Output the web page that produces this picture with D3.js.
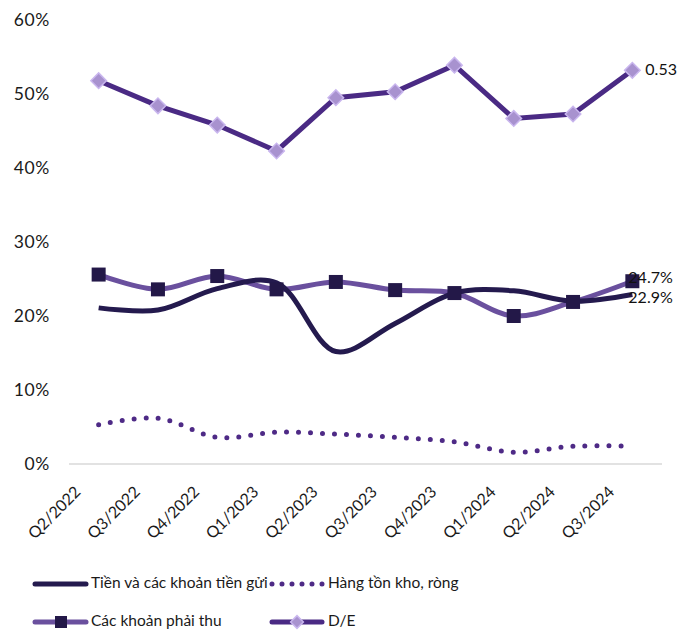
<!DOCTYPE html>
<html><head><meta charset="utf-8">
<script src="https://cdn.jsdelivr.net/npm/d3@7"></script>
<style>body{margin:0;background:#fff;} svg{display:block;font-family:Lato,"Noto Sans",sans-serif;}</style>
</head><body><svg id="c" width="678" height="632"></svg>
<script>
const categories = ["Q2/2022","Q3/2022","Q4/2022","Q1/2023","Q2/2023","Q3/2023","Q4/2023","Q1/2024","Q2/2024","Q3/2024"];
const cash = [21.1, 20.8, 23.7, 24.5, 15.2, 19.0, 23.1, 23.4, 22.0, 22.9];
const inventory = [5.3, 6.2, 3.6, 4.3, 4.05, 3.6, 3.0, 1.6, 2.4, 2.4];
const receivables = [25.6, 23.6, 25.4, 23.6, 24.6, 23.5, 23.1, 20.0, 21.9, 24.7];
const de = [51.8, 48.4, 45.8, 42.3, 49.5, 50.3, 53.9, 46.7, 47.3, 53.2];
const yTicks = [0, 10, 20, 30, 40, 50, 60];
const seriesNames = ["Tiền và các khoản tiền gửi", "Hàng tồn kho, ròng", "Các khoản phải thu", "D/E"];
const endLabels = ["22.9%", "24.7%", "0.53"];

const svg = d3.select("#c");
const x = d3.scaleBand().domain(categories).range([69, 662]);
const y = d3.scaleLinear().domain([0, 60]).range([464, 20]);
const cx = d => x(d) + x.bandwidth() / 2;

const C = {cash:"#241a4e", inv:"#4e2a86", rec:"#6a509e", recMk:"#231848", de:"#4a2a84", deMk:"#a892cf", deMkS:"#c9b6ee"};

// baseline
svg.append("line").attr("x1", 69).attr("x2", 662).attr("y1", y(0)).attr("y2", y(0))
  .attr("stroke", "#d9d9d9").attr("stroke-width", 1.5);

// y axis labels
const yAxis = d3.axisLeft(y).tickValues(yTicks).tickFormat(d => d + "%").tickSize(0).tickPadding(0);
const ya = svg.append("g").attr("transform", "translate(50,0)").call(yAxis);
ya.select(".domain").remove();
ya.selectAll("text").attr("font-size", 17.5).attr("letter-spacing", 0.6).attr("fill", "#1a1a1a").attr("font-family", "Lato, sans-serif");

// x axis labels
const xa = svg.append("g").attr("transform", `translate(0,${y(0)})`)
  .call(d3.axisBottom(x).tickSize(0).tickPadding(0));
xa.select(".domain").remove();
xa.selectAll("text").attr("font-size", 16).attr("fill", "#1a1a1a").attr("font-family", "Lato, sans-serif")
  .attr("text-anchor", "end").attr("dy", 0).attr("y", 0)
  .attr("transform", "translate(-17,29) rotate(-45)");

const line = (vals, curve) => d3.line().x((d, i) => cx(categories[i])).y(d => y(d)).curve(curve)(vals);

// inventory dotted
svg.append("path").attr("d", line(inventory, d3.curveCatmullRom.alpha(0.5)))
  .attr("fill", "none").attr("stroke", C.inv).attr("stroke-width", 5)
  .attr("stroke-linecap", "round").attr("stroke-dasharray", "0,12");

// receivables
svg.append("path").attr("d", line(receivables, d3.curveCatmullRom.alpha(0.5)))
  .attr("fill", "none").attr("stroke", C.rec).attr("stroke-width", 5);

// cash
svg.append("path").attr("d", line(cash, d3.curveCatmullRom.alpha(0.5)))
  .attr("fill", "none").attr("stroke", C.cash).attr("stroke-width", 5);

// receivables markers
svg.selectAll(".rm").data(receivables).enter().append("rect")
  .attr("x", (d, i) => cx(categories[i]) - 7).attr("y", d => y(d) - 7)
  .attr("width", 14).attr("height", 14).attr("fill", C.recMk);

// D/E
svg.append("path").attr("d", line(de, d3.curveLinear))
  .attr("fill", "none").attr("stroke", C.de).attr("stroke-width", 5);
svg.selectAll(".dm").data(de).enter().append("rect")
  .attr("x", -5.5).attr("y", -5.5).attr("width", 11).attr("height", 11)
  .attr("transform", (d, i) => `translate(${cx(categories[i])},${y(d)}) rotate(45)`)
  .attr("fill", C.deMk).attr("stroke", C.deMkS).attr("stroke-width", 1.5);

// end labels
const last = categories.length - 1;
const lbl = (txt, xx, yy) => svg.append("text").attr("x", xx).attr("y", yy).text(txt)
  .attr("font-size", 16).attr("fill", "#111").attr("font-family", "Lato, sans-serif").attr("dominant-baseline", "middle");
lbl(endLabels[0], cx(categories[last]) - 4, y(cash[last]) + 4);
lbl(endLabels[1], cx(categories[last]) - 4, y(receivables[last]) - 2);
lbl(endLabels[2], cx(categories[last]) + 13, y(de[last]) + 1);

// legend
const lg = svg.append("g").attr("font-family", "Lato, sans-serif").attr("font-size", 15.5).attr("fill", "#1a1a1a");
const rows = [
  {x1: 33, y: 584, name: seriesNames[0], type: "cash"},
  {x1: 270, y: 584, name: seriesNames[1], type: "inv"},
  {x1: 33, y: 622, name: seriesNames[2], type: "rec"},
  {x1: 270, y: 622, name: seriesNames[3], type: "de"}
];
rows.forEach(r => {
  const g = lg.append("g");
  if (r.type === "cash") {
    g.append("line").attr("x1", r.x1 + 2).attr("x2", r.x1 + 53).attr("y1", r.y).attr("y2", r.y)
      .attr("stroke", C.cash).attr("stroke-width", 5).attr("stroke-linecap", "round");
  } else if (r.type === "inv") {
    g.append("line").attr("x1", r.x1 + 2).attr("x2", r.x1 + 53).attr("y1", r.y).attr("y2", r.y)
      .attr("stroke", C.inv).attr("stroke-width", 5).attr("stroke-linecap", "round").attr("stroke-dasharray", "0,10");
  } else if (r.type === "rec") {
    g.append("line").attr("x1", r.x1 + 2).attr("x2", r.x1 + 53).attr("y1", r.y).attr("y2", r.y)
      .attr("stroke", C.rec).attr("stroke-width", 5).attr("stroke-linecap", "round");
    g.append("rect").attr("x", r.x1 + 22).attr("y", r.y - 6).attr("width", 12).attr("height", 12).attr("fill", C.recMk);
  } else {
    g.append("line").attr("x1", r.x1 + 2).attr("x2", r.x1 + 52).attr("y1", r.y).attr("y2", r.y)
      .attr("stroke", C.de).attr("stroke-width", 5).attr("stroke-linecap", "round");
    g.append("rect").attr("x", -4.5).attr("y", -4.5).attr("width", 9).attr("height", 9)
      .attr("transform", `translate(${r.x1 + 27},${r.y}) rotate(45)`)
      .attr("fill", C.deMk).attr("stroke", C.deMkS).attr("stroke-width", 1.5);
  }
  g.append("text").attr("x", r.x1 + 58).attr("y", r.y).attr("dominant-baseline", "middle").text(r.name);
});
</script></body></html>
